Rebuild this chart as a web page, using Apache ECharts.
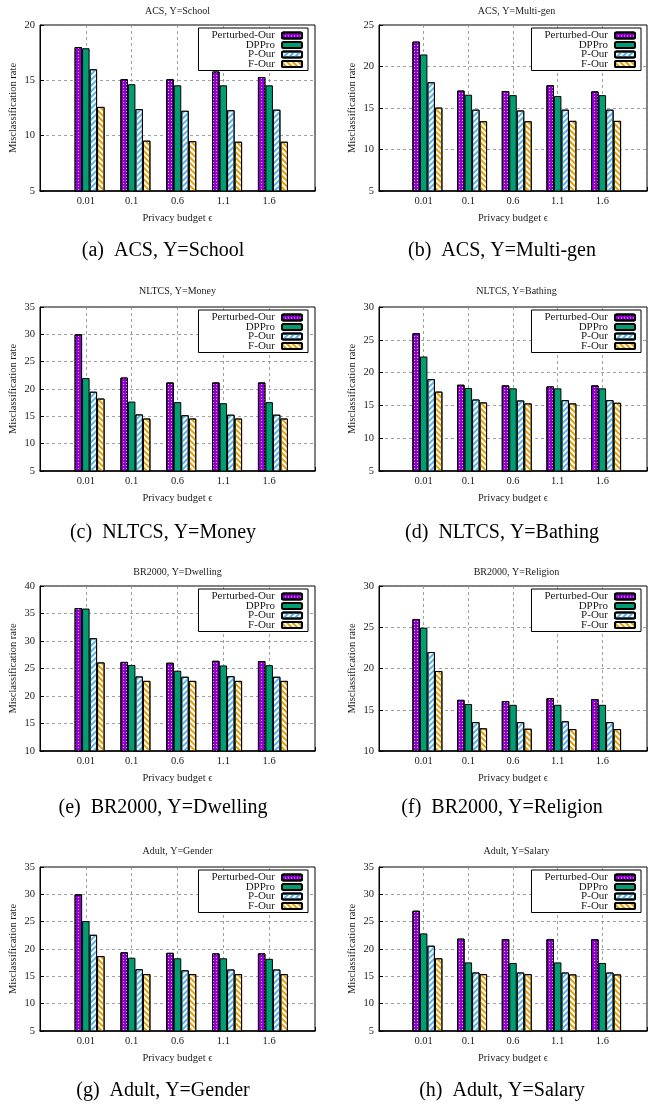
<!DOCTYPE html>
<html><head><meta charset="utf-8">
<script src="https://cdn.jsdelivr.net/npm/echarts@6/dist/echarts.min.js"></script>
<style>html,body{margin:0;padding:0;background:#fff}#c{width:650px;height:1107px}</style>
</head><body><div id="c"></div>
<script>
// ---------- data ----------
const categories = ['', '0.01', '0.1', '0.6', '1.1', '1.6', ''];
const seriesNames = ['Perturbed-Our', 'DPPro', 'P-Our', 'F-Our'];

const acsSchoolPerturbed = [18.0, 15.1, 15.1, 15.8, 15.3];
const acsSchoolDPPro     = [17.9, 14.65, 14.55, 14.55, 14.55];
const acsSchoolPOur      = [16.0, 12.4, 12.25, 12.3, 12.35];
const acsSchoolFOur      = [12.6, 9.55, 9.5, 9.45, 9.45];

const acsMultiPerturbed = [23.0, 17.1, 17.05, 17.75, 17.0];
const acsMultiDPPro     = [21.45, 16.6, 16.55, 16.45, 16.55];
const acsMultiPOur      = [18.1, 14.8, 14.7, 14.8, 14.8];
const acsMultiFOur      = [15.05, 13.4, 13.4, 13.45, 13.45];

const nltcsMoneyPerturbed = [30.0, 22.1, 21.2, 21.2, 21.2];
const nltcsMoneyDPPro     = [22.0, 17.7, 17.6, 17.4, 17.6];
const nltcsMoneyPOur      = [19.5, 15.35, 15.2, 15.3, 15.3];
const nltcsMoneyFOur      = [18.25, 14.6, 14.6, 14.6, 14.6];

const nltcsBathPerturbed = [26.0, 18.15, 18.05, 17.9, 18.05];
const nltcsBathDPPro     = [22.45, 17.65, 17.6, 17.6, 17.6];
const nltcsBathPOur      = [19.0, 15.9, 15.75, 15.8, 15.8];
const nltcsBathFOur      = [17.1, 15.45, 15.3, 15.3, 15.4];

const brDwellPerturbed = [36.0, 26.2, 26.05, 26.4, 26.35];
const brDwellDPPro     = [35.9, 25.65, 24.6, 25.55, 25.6];
const brDwellPOur      = [30.5, 23.55, 23.5, 23.6, 23.5];
const brDwellFOur      = [26.1, 22.75, 22.75, 22.75, 22.75];

const brRelPerturbed = [26.0, 16.2, 16.05, 16.4, 16.3];
const brRelDPPro     = [24.95, 15.7, 15.6, 15.6, 15.6];
const brRelPOur      = [22.0, 13.5, 13.5, 13.6, 13.5];
const brRelFOur      = [19.7, 12.75, 12.7, 12.65, 12.65];

const adultGenderPerturbed = [30.0, 19.4, 19.3, 19.2, 19.2];
const adultGenderDPPro     = [25.1, 18.4, 18.3, 18.3, 18.2];
const adultGenderPOur      = [22.6, 16.3, 16.1, 16.25, 16.25];
const adultGenderFOur      = [18.7, 15.4, 15.4, 15.4, 15.4];

const adultSalaryPerturbed = [27.0, 21.9, 21.8, 21.8, 21.8];
const adultSalaryDPPro     = [22.85, 17.55, 17.45, 17.55, 17.45];
const adultSalaryPOur      = [20.6, 15.7, 15.7, 15.7, 15.7];
const adultSalaryFOur      = [18.3, 15.4, 15.4, 15.35, 15.35];

const panelTitles = ['ACS, Y=School', 'ACS, Y=Multi-gen', 'NLTCS, Y=Money', 'NLTCS, Y=Bathing',
  'BR2000, Y=Dwelling', 'BR2000, Y=Religion', 'Adult, Y=Gender', 'Adult, Y=Salary'];
const panelCaptions = ['(a)  ACS, Y=School', '(b)  ACS, Y=Multi-gen', '(c)  NLTCS, Y=Money', '(d)  NLTCS, Y=Bathing',
  '(e)  BR2000, Y=Dwelling', '(f)  BR2000, Y=Religion', '(g)  Adult, Y=Gender', '(h)  Adult, Y=Salary'];
const yMins = [5, 5, 5, 5, 10, 10, 5, 5];
const yMaxs = [20, 25, 35, 30, 40, 30, 35, 35];
const yInterval = 5;
const xAxisName = 'Privacy budget \u03F5';
const yAxisName = 'Misclassification rate';

const panelData = [
  [acsSchoolPerturbed, acsSchoolDPPro, acsSchoolPOur, acsSchoolFOur],
  [acsMultiPerturbed, acsMultiDPPro, acsMultiPOur, acsMultiFOur],
  [nltcsMoneyPerturbed, nltcsMoneyDPPro, nltcsMoneyPOur, nltcsMoneyFOur],
  [nltcsBathPerturbed, nltcsBathDPPro, nltcsBathPOur, nltcsBathFOur],
  [brDwellPerturbed, brDwellDPPro, brDwellPOur, brDwellFOur],
  [brRelPerturbed, brRelDPPro, brRelPOur, brRelFOur],
  [adultGenderPerturbed, adultGenderDPPro, adultGenderPOur, adultGenderFOur],
  [adultSalaryPerturbed, adultSalaryDPPro, adultSalaryPOur, adultSalaryFOur]
];

// ---------- layout & style ----------
const FONT = 'Liberation Serif';
const TXT = '#1a1a1a';
const colLeft = [40, 379];
const colWidth = [275, 275];
const rowTop = [25, 307, 586, 867];
const rowHeight = [166, 164, 165, 164];
const titleY = [11, 291, 572, 851];
const captionY = [251, 533, 808, 1091];
const captionX = [163, 502];
const legendRight = [342, 9];

const barW = 7.5;
const styles = [
  { color: '#9400d3', decal: { symbol: 'rect', symbolSize: 1, dashArrayX: [1, 1.2], dashArrayY: [1, 1.2], color: 'rgba(255,255,255,0.7)' } },
  { color: '#009e73' },
  { color: '#ffffff', decal: { symbol: 'rect', symbolSize: 1, dashArrayX: [1, 0], dashArrayY: [1.3, 2.0], rotation: -Math.PI / 4, color: '#56b4e9' } },
  { color: '#ffffff', decal: { symbol: 'rect', symbolSize: 1, dashArrayX: [1, 0], dashArrayY: [1.3, 2.0], rotation: Math.PI / 4, color: '#e69f00' } }
];

const grid = [], xAxis = [], yAxis = [], series = [], legend = [], title = [];
for (let i = 0; i < 8; i++) {
  const col = i % 2, row = Math.floor(i / 2);
  grid.push({ left: colLeft[col], top: rowTop[row], width: colWidth[col], height: rowHeight[row],
    show: true, borderColor: '#000', borderWidth: 1, backgroundColor: 'transparent' });
  xAxis.push({ type: 'category', gridIndex: i, data: categories, boundaryGap: false,
    axisLine: { show: true, lineStyle: { color: '#000', width: 1.5 } },
    axisTick: { show: true, inside: true, length: 4, lineStyle: { color: '#000' } },
    axisLabel: { interval: 0, margin: 5, fontFamily: FONT, fontSize: 10.5, color: TXT },
    splitLine: { show: true, lineStyle: { color: '#8a8a8a', type: [3, 3], width: 0.8 } },
    name: xAxisName, nameLocation: 'middle', nameGap: 22,
    nameTextStyle: { fontFamily: FONT, fontSize: 10.5, color: TXT } });
  yAxis.push({ type: 'value', gridIndex: i, min: yMins[i], max: yMaxs[i], interval: yInterval,
    axisLine: { show: true, lineStyle: { color: '#000', width: 1 } },
    axisTick: { show: true, inside: true, length: 4, lineStyle: { color: '#000' } },
    axisLabel: { margin: 5, fontFamily: FONT, fontSize: 10.5, color: TXT },
    splitLine: { show: true, lineStyle: { color: '#8a8a8a', type: [3, 3], width: 0.8 } },
    name: yAxisName, nameLocation: 'middle', nameGap: 21,
    nameTextStyle: { fontFamily: FONT, fontSize: 10.5, color: TXT } });
  // spacer keeps the bar group offset to the right of the tick, as in the original
  series.push({ type: 'bar', name: '_pad', xAxisIndex: i, yAxisIndex: i, silent: true,
    data: categories.map(() => null), barWidth: barW, barGap: '0%',
    itemStyle: { color: 'rgba(0,0,0,0)' } });
  for (let s = 0; s < 4; s++) {
    series.push({ type: 'bar', name: seriesNames[s], xAxisIndex: i, yAxisIndex: i,
      data: [null].concat(panelData[i][s]).concat([null]),
      barWidth: barW, barGap: '0%',
      itemStyle: Object.assign({ borderColor: '#000', borderWidth: 1 }, styles[s]),
      emphasis: { disabled: true } });
  }
  legend.push({ data: seriesNames, orient: 'vertical', align: 'right', selectedMode: false,
    right: legendRight[col], top: rowTop[row] + 3,
    itemWidth: 20, itemHeight: 6, itemGap: -1.5,
    padding: [2, 5, 1, 13], borderColor: '#000', borderWidth: 1, backgroundColor: '#fff',
    textStyle: { fontFamily: FONT, fontSize: 11, color: TXT, padding: [0, 2, 0, 0] } });
  title.push({ text: panelTitles[i], left: colLeft[col] + colWidth[col] / 2, top: titleY[row],
    textAlign: 'center', textVerticalAlign: 'middle', padding: 0,
    textStyle: { fontFamily: FONT, fontSize: 10, fontWeight: 'normal', color: TXT } });
  title.push({ text: panelCaptions[i], left: captionX[col], top: captionY[row],
    textAlign: 'center', textVerticalAlign: 'middle', padding: 0,
    textStyle: { fontFamily: FONT, fontSize: 20, fontWeight: 'normal', color: '#000' } });
}

const chart = echarts.init(document.getElementById('c'), null, { renderer: 'canvas' });
chart.setOption({ animation: false, backgroundColor: '#fff', title, grid, xAxis, yAxis, legend, series });
</script></body></html>
